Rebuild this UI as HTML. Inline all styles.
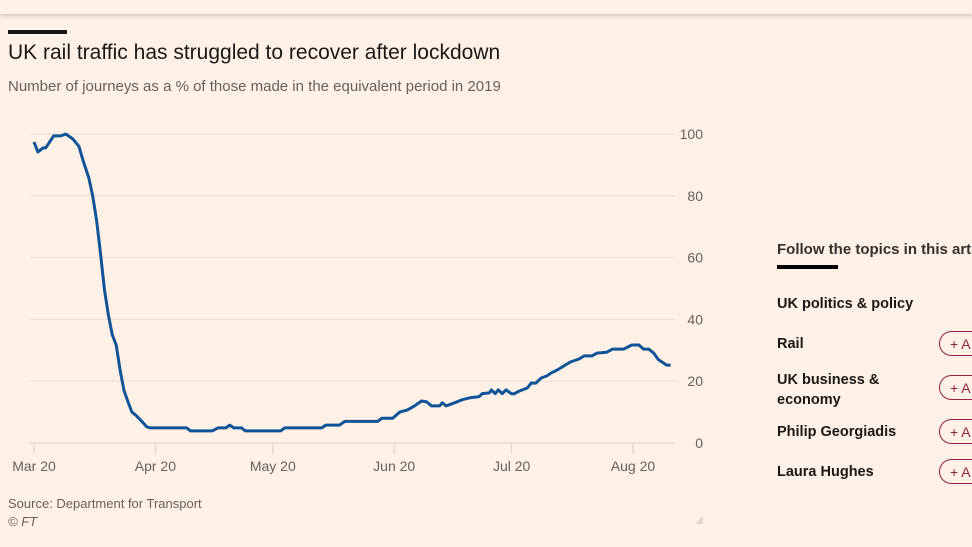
<!DOCTYPE html>
<html><head><meta charset="utf-8"><style>
body{margin:0;width:972px;height:547px;background:#fff1e5;overflow:hidden;position:relative;font-family:"Liberation Sans",sans-serif;}
.topbar{position:absolute;left:0;top:0;width:972px;height:14px;background:#fff1e5;box-shadow:0 2px 5px rgba(0,0,0,0.2);}
.abs{position:absolute;white-space:nowrap;}
.btn{position:absolute;left:939px;width:60px;height:25px;border:1px solid #8f2243;border-radius:14px;color:#8f2243;font-size:14px;line-height:25px;padding-left:10px;box-sizing:border-box;}
.topic{position:absolute;left:777px;font-size:14.5px;font-weight:bold;color:#1a1817;}
</style></head><body>
<div class="topbar"></div>
<div class="abs" style="left:8px;top:30px;width:59px;height:4px;background:#1a1817"></div>
<div class="abs" style="left:8px;top:41px;font-size:21px;color:#1a1817">UK rail traffic has struggled to recover after lockdown</div>
<div class="abs" style="left:8px;top:78px;font-size:15px;color:#66605c">Number of journeys as a % of those made in the equivalent period in 2019</div>
<svg id="chart" width="972" height="547" style="position:absolute;left:0;top:0"></svg>
<div class="abs" style="left:8px;top:496px;font-size:13px;color:#66605c">Source: Department for Transport</div>
<div class="abs" style="left:8px;top:514px;font-size:13px;color:#66605c;font-style:italic">© FT</div>
<div class="abs" style="left:777px;top:241px;font-size:15px;font-weight:bold;color:#33302e">Follow the topics in this article</div>
<div class="abs" style="left:777px;top:265px;width:61px;height:4px;background:#000"></div>
<div class="topic" style="top:296px">UK politics &amp; policy</div>
<div class="topic" style="top:336px">Rail</div>
<div class="btn" style="top:331px">+ A</div>
<div class="topic" style="top:370px;line-height:20px">UK business &amp;<br>economy</div>
<div class="btn" style="top:375px">+ A</div>
<div class="topic" style="top:424px">Philip Georgiadis</div>
<div class="btn" style="top:419px">+ A</div>
<div class="topic" style="top:464px">Laura Hughes</div>
<div class="btn" style="top:459px">+ A</div>
<script>
const days=[0,1,2.3,3,4.3,5,6.9,8.1,9.9,11.5,12.5,14,15,16,17,18,19,20,21,22,23,24,25,26,27.7,28.8,29.8,39,40,45.5,47,49,50,51,53,54,63,64,73.5,74.5,78,79.4,87.8,88.8,91.6,93.4,95.4,97.2,99,100.3,101.5,103.6,104.3,105.3,107.4,109.4,111.2,113.7,114.5,116.3,116.8,117.8,118.6,119.6,120.6,121.9,122.6,123.9,126,127,128.2,129.5,131,132,133.6,135.4,137,139.2,140.5,142.5,143.8,146.3,147.8,150.6,152.7,154.5,155.7,157,158.3,159.5,161.6,162.6];
const values=[97.4,94.2,95.5,95.5,98,99.4,99.4,100,98.4,96,91.6,85.8,80,72,61,49.5,41.4,35,31.7,23.6,17,13.3,10,9,6.8,5.2,4.9,4.9,3.9,3.9,4.9,4.9,5.8,4.9,4.9,3.9,3.9,4.9,4.9,5.8,5.8,7,7,8,8,10,10.7,12,13.6,13.3,12,12,13,12,13,14,14.6,15,16,16.2,17.2,16,17.2,16,17.2,16,15.9,16.8,17.8,19.4,19.4,21,21.7,22.6,23.6,25,26.2,27.2,28.2,28.2,29.1,29.4,30.4,30.4,31.7,31.7,30.4,30.4,29.1,27,25.2,25.2];
const yTicks=[0,20,40,60,80,100];
const xTickDays=[0,31,61,92,122,153];
const xTickLabels=["Mar 20","Apr 20","May 20","Jun 20","Jul 20","Aug 20"];
const svg=document.getElementById('chart');
const NS='http://www.w3.org/2000/svg';
const X=d=>34+d*3.915;
const Y=v=>443-v*3.09;
function mk(tag,attrs){const e=document.createElementNS(NS,tag);for(const k in attrs)e.setAttribute(k,attrs[k]);svg.appendChild(e);return e;}
yTicks.forEach(t=>{
  const g=mk('line',{x1:30,x2:675,y1:Y(t),y2:Y(t),stroke:t===0?'#d9cfc6':'#eadfd4','stroke-width':1});
  
  
  const tx=mk('text',{x:703,y:Y(t)+5,'text-anchor':'end','font-size':14,fill:'#66605c','font-family':'Liberation Sans, sans-serif'});
  tx.textContent=t;
  
  
});
xTickDays.forEach((d,i)=>{
  const l=mk('line',{x1:X(d),x2:X(d),y1:443,y2:454,stroke:'#d9cfc6','stroke-width':1});
  
  
  const tx=mk('text',{x:X(d),y:471,'text-anchor':'middle','font-size':14,fill:'#66605c','font-family':'Liberation Sans, sans-serif'});
  tx.textContent=xTickLabels[i];
  
  
});
const p=mk('path',{d:days.map((d,i)=>(i?'L':'M')+X(d).toFixed(1)+','+Y(values[i]).toFixed(1)).join(''),fill:'none',stroke:'#0f5499','stroke-width':3,'stroke-linejoin':'round'});


const r=mk('path',{d:'M703,516 L703,524 L695,524 Z',fill:'#e2d6cb'});


</script>
</body></html>
